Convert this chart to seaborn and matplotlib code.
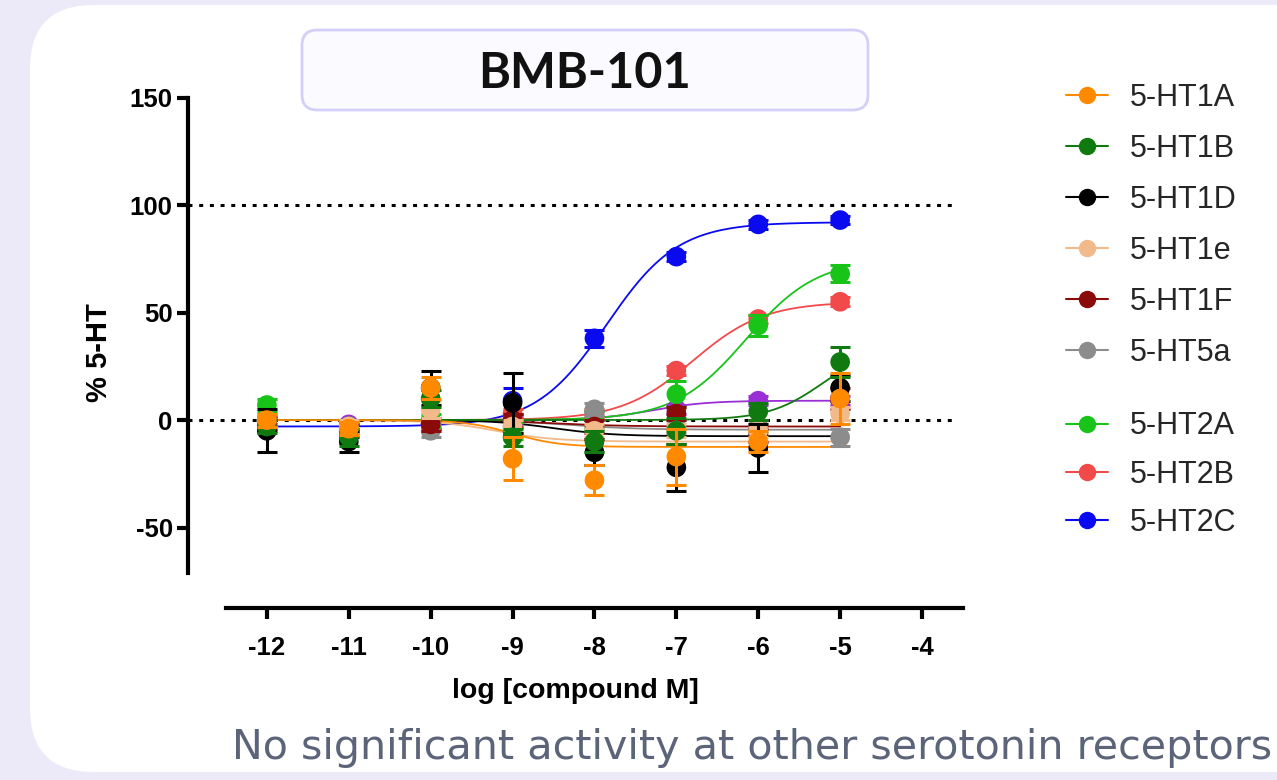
import numpy as np
import pandas as pd
import matplotlib
matplotlib.use("Agg")
import matplotlib.pyplot as plt
import seaborn as sns
from matplotlib.lines import Line2D
from matplotlib.patches import FancyBboxPatch

# concentrations (log M)
log_conc = [-12, -11, -10, -9, -8, -7, -6, -5]

receptors = ["5-HT1A", "5-HT1B", "5-HT1D", "5-HT1e", "5-HT1F", "5-HT5a",
             "5-HT2A", "5-HT2B", "5-HT2C", "other"]
colors = ["#FF8A00", "#107A10", "#000000", "#F2B98A", "#8B0A0A", "#8C8C8C",
          "#19C419", "#F24A4A", "#0A0AF0", "#9A2FD6"]

# mean % 5-HT response per receptor
resp_1a = [0, -4, 15, -18, -28, -17, -10, 10]
resp_1b = [-3, -8, 10, -8, -10, -5, 4, 27]
resp_1d = [-5, -10, 15, 8, -15, -22, -13, 15]
resp_1e = [0, -3, 5, -3, -5, -5, -5, 3]
resp_1f = [-2, -5, -2, 0, -3, 3, -7, 10]
resp_5a = [0, -5, -5, -3, 5, -3, -3, -8]
resp_2a = [7, -3, 0, -5, 0, 12, 44, 68]
resp_2b = [0, -3, -2, 3, 3, 23, 47, 55]
resp_2c = [-2, -4, -2, 9, 38, 76, 91, 93]
resp_other = [0, -2, -2, 0, 2, 5, 9, 9]

# SEM
err_1a = [3, 3, 5, 10, 7, 13, 5, 12]
err_1b = [3, 4, 4, 4, 5, 6, 4, 7]
err_1d = [10, 5, 8, 14, 6, 11, 11, 6]
err_1e = [3, 3, 4, 3, 3, 3, 3, 3]
err_1f = [3, 3, 3, 3, 3, 3, 3, 5]
err_5a = [3, 3, 3, 3, 3, 3, 3, 4]
err_2a = [3, 3, 3, 4, 4, 6, 5, 4]
err_2b = [2, 2, 2, 2, 2, 2, 2, 2]
err_2c = [2, 2, 2, 6, 4, 2, 2, 2]
err_other = [2, 2, 2, 2, 2, 2, 2, 2]

# 4-parameter logistic fit (bottom, top, logEC50, hill)
fit_bottom = [0, 0, 0, 0, 0, 0, 0, 0, -3, 0]
fit_top = [-12.5, 35, -7.5, -10, -3, -4.5, 75, 55, 92, 9]
fit_logec50 = [-9.0, -5.2, -8.5, -9.2, -8.5, -8.3, -6.15, -6.8, -7.85, -7.3]
fit_hill = [1.5, 1.3, 1.2, 1.2, 1.0, 1.0, 1.0, 1.0, 1.0, 1.3]

responses = [resp_1a, resp_1b, resp_1d, resp_1e, resp_1f, resp_5a,
             resp_2a, resp_2b, resp_2c, resp_other]
errors = [err_1a, err_1b, err_1d, err_1e, err_1f, err_5a,
          err_2a, err_2b, err_2c, err_other]

points = pd.DataFrame([
    {"receptor": r, "logc": x, "resp": y, "sem": e}
    for r, ys, es in zip(receptors, responses, errors)
    for x, y, e in zip(log_conc, ys, es)
])

xfit = np.linspace(-12, -5, 300)
curves = []
for r, b, t, ec, h in zip(receptors, fit_bottom, fit_top, fit_logec50, fit_hill):
    yfit = b + (t - b) / (1 + 10 ** ((ec - xfit) * h))
    curves.append(pd.DataFrame({"receptor": r, "logc": xfit, "resp": yfit}))
curves = pd.concat(curves)

palette = dict(zip(receptors, colors))

sns.set_theme(style="ticks")
plt.rcParams["font.family"] = ["Liberation Sans", "DejaVu Sans"]
plt.rcParams["axes.unicode_minus"] = False

fig = plt.figure(figsize=(12.77, 7.8), dpi=100)
fig.patch.set_facecolor("#ECEAF9")

# white rounded panel behind everything
panel = FancyBboxPatch((30 / 1277, 8 / 780), 1.2, 767 / 780,
                       boxstyle="round,pad=0,rounding_size=0.05",
                       transform=fig.transFigure, facecolor="white",
                       edgecolor="none", zorder=-5, mutation_aspect=1277 / 780)
fig.patches.append(panel)

ax = fig.add_axes([188 / 1277, (780 - 608) / 780, 775 / 1277, 510.5 / 780])
ax.set_facecolor("none")
ax.set_zorder(2)

# reference lines at 0 and 100 %
for yref in [0, 100]:
    ax.plot([-12.96, -3.6], [yref, yref], color="black", lw=2.2,
            ls=(0, (1.3, 2.2)), zorder=1)

draw_order = list(reversed(receptors))
for i, r in enumerate(draw_order):
    sub = curves[curves["receptor"] == r]
    sns.lineplot(data=sub, x="logc", y="resp", color=palette[r], lw=1.3,
                 ax=ax, zorder=2 + i, legend=False)
for i, r in enumerate(draw_order):
    sub = points[points["receptor"] == r]
    ax.errorbar(sub["logc"], sub["resp"], yerr=sub["sem"], fmt="none",
                ecolor=palette[r], elinewidth=2.2, capsize=7, capthick=2.2,
                zorder=20 + i)
    sns.scatterplot(data=sub, x="logc", y="resp", color=palette[r], s=200,
                    edgecolor="none", ax=ax, zorder=21 + i, legend=False)

ax.set_xlim(-12.963, -3.5)
ax.set_ylim(-87.4, 150)
ax.set_xticks(range(-12, -3))
ax.set_yticks([-50, 0, 50, 100, 150])
ax.set_xticklabels([str(v) for v in range(-12, -3)])
sns.despine(ax=ax)
ax.spines["left"].set_bounds(-71, 150)
ax.spines["bottom"].set_bounds(-12.5, -3.5)
for s in ["left", "bottom"]:
    ax.spines[s].set_linewidth(3)
    ax.spines[s].set_color("black")
ax.tick_params(width=3, length=8, labelsize=18.5, colors="black")
ax.tick_params(axis="y", pad=3)
ax.tick_params(axis="x", pad=12)
for lab in ax.get_xticklabels() + ax.get_yticklabels():
    lab.set_fontweight("bold")
ax.set_xlabel("log [compound M]", fontsize=20.5, fontweight="bold",
              labelpad=13, color="black")
ax.set_ylabel("% 5-HT", fontsize=21, fontweight="bold", labelpad=12,
              color="black")

# title box
tbox = FancyBboxPatch((302 / 1277, (780 - 110) / 780), 566 / 1277, 80 / 780,
                      boxstyle="round,pad=0,rounding_size=0.012",
                      transform=fig.transFigure, facecolor="#FBFBFF",
                      edgecolor="#D3CFF8", lw=2, zorder=1,
                      mutation_aspect=1277 / 780)
fig.patches.append(tbox)
fig.text(585 / 1277, (780 - 74) / 780, "BMB-101", ha="center", va="center",
         fontsize=35, fontweight="bold", family=["Lato", "DejaVu Sans"],
         color="#111111")


def handles_for(names):
    return [Line2D([], [], color=palette[n], marker="o", markersize=11.5,
                   lw=1.5) for n in names]


grp1 = receptors[:6]
grp2 = receptors[6:9]
fig.legend(handles_for(grp1), grp1, loc="upper left",
           bbox_to_anchor=(1038 / 1277, (780 - 55) / 780),
           frameon=False, fontsize=22, labelspacing=0.69,
           handlelength=1.4, handletextpad=0.7)
fig.legend(handles_for(grp2), grp2, loc="upper left",
           bbox_to_anchor=(1038 / 1277, (780 - 384) / 780),
           frameon=False, fontsize=22, labelspacing=0.6,
           handlelength=1.4, handletextpad=0.7)

fig.text(232 / 1277, (780 - 748) / 780,
         "No significant activity at other serotonin receptors",
         ha="left", va="center", fontsize=29.7, color="#5B6478",
         family=["DejaVu Sans"])

fig.savefig("out.png", dpi=100, facecolor=fig.get_facecolor())
